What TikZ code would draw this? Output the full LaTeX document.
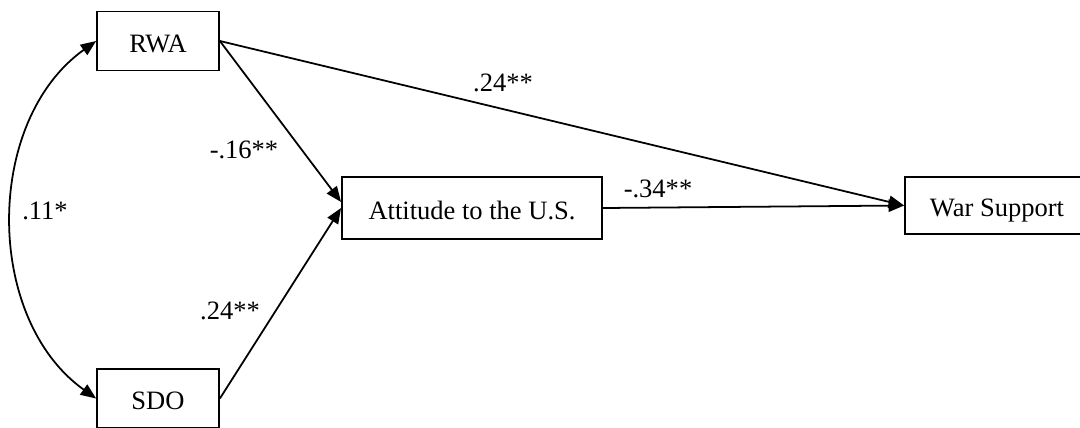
\documentclass[tikz,border=0pt]{standalone}
\usepackage{fontspec}
\setmainfont{Liberation Serif}
\usepackage{tikz}
\usetikzlibrary{positioning,arrows.meta,calc}
\tikzset{
  var/.style={draw,line width=0.8pt,inner sep=0pt,align=center,
              text height=10pt,text depth=0pt,
              font=\fontsize{12pt}{14pt}\selectfont,fill=white},
  path/.style={-{Triangle[length=7pt,width=5.6pt]},line width=0.8pt},
  cov/.style={{Triangle[length=7pt,width=5.6pt]}-{Triangle[length=7pt,width=5.6pt]},line width=0.8pt},
  coef/.style={font=\fontsize{12pt}{14pt}\selectfont,inner sep=0pt},
}
\begin{document}
\begin{tikzpicture}[x=0.4525pt,y=0.4525pt]
  \useasboundingbox (0,0) rectangle (1080,427);
  % --- variables ---
  \node[var,minimum width=55.2pt,minimum height=26.7pt] (rwa) at (158,386) {RWA};
  \node[var,minimum width=55.2pt,minimum height=26.7pt] (sdo) at (158,28.5) {SDO};
  \node[var,minimum width=117.7pt,minimum height=28pt] (att) at (472,219) {Attitude to the U.S.};
  \node[var,minimum width=83.3pt,minimum height=25.8pt] (war) at (997,221.5) {War Support};
  % --- paths ---
  \draw[path] (rwa.east) -- (war.west);
  \draw[path] (rwa.east) -- ($(att.west)+(0,6)$);
  \draw[path] (sdo.east) -- (att.west);
  \draw[path] (att.east) -- (war.west);
  % --- correlation ---
  \draw[cov] (rwa.west) .. controls ($(rwa.west)+(-112,-80)$) and
                                  ($(sdo.west)+(-112,80)$) .. (sdo.west);
  % --- coefficients ---
  \node[coef] (crw) at (503,344) {.24**};
  \node[coef] (cra) at (244,277) {-.16**};
  \node[coef] (crs) at (45,216) {.11*};
  \node[coef] (csa) at (230,116) {.24**};
  \node[coef] (caw) at (658,238) {-.34**};
\end{tikzpicture}
\end{document}
